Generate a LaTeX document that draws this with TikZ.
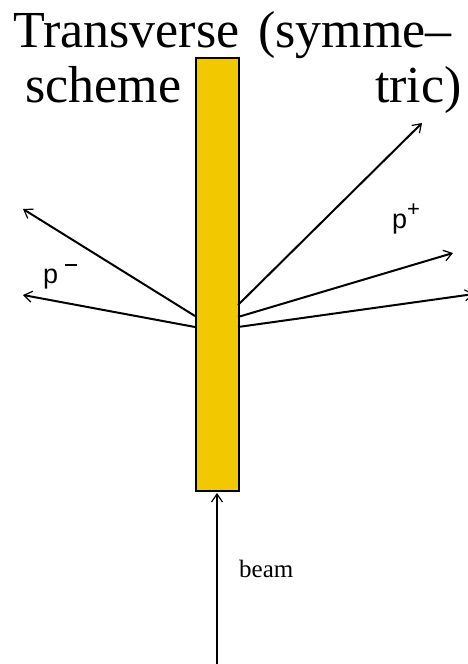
\documentclass[tikz,border=0pt]{standalone}
\usepackage{fontspec}
\setmainfont{Liberation Serif}
\newfontfamily\sansf{Liberation Sans}
\usetikzlibrary{arrows.meta}
\definecolor{gold}{RGB}{242,200,0}
\begin{document}
\begin{tikzpicture}[x=1pt,y=-1pt,
  track/.style={line width=2pt,-{Straight Barb[length=8pt,width=11pt,line width=1.2pt]}},
  title/.style={inner sep=0pt,font=\fontsize{52}{52}\selectfont},
  plabel/.style={inner sep=0pt,font=\sansf\fontsize{27}{27}\selectfont},
  blabel/.style={inner sep=0pt,font=\fontsize{25}{25}\selectfont}]
\useasboundingbox (0,0) rectangle (468,664);
\clip (0,0) rectangle (468,664);
% titles
\node[title,anchor=base west] (t1) at (13,47) {Transverse};
\node[title,anchor=base west] (t2) at (258,47) {(symme–};
\node[title,anchor=base west] (t3) at (25,102) {scheme};
\node[title,anchor=base east] (t4) at (462,102) {tric)};
% target
\node[draw,line width=2pt,fill=gold,minimum width=43pt,minimum height=433pt,inner sep=0pt,anchor=north west] (target) at (195,57) {};
% coordinates
\coordinate (l1s) at (195,316);
\coordinate (l1e) at (23,209);
\coordinate (l2s) at (195,327);
\coordinate (l2e) at (23,295);
\coordinate (r1s) at (238,305);
\coordinate (r1e) at (422,123);
\coordinate (r2s) at (238,317);
\coordinate (r2e) at (453,253);
\coordinate (r3s) at (238,327);
\coordinate (r3e) at (474,294);
\coordinate (bs) at (217,664);
\coordinate (be) at (217,493);
% tracks
\draw[track] (l1s) -- (l1e);
\draw[track] (l2s) -- (l2e);
\draw[track] (r1s) -- (r1e);
\draw[track] (r2s) -- (r2e);
\draw[track] (r3s) -- (r3e);
\draw[track] (bs) -- (be);
% labels
\node[plabel,anchor=base west] (pm) at (43,283) {p\hspace{7pt}\raisebox{17.5pt}{\rule{12pt}{1.2pt}}};
\node[plabel,anchor=base west] (pp) at (392,228) {p\raisebox{12pt}{\fontsize{22}{22}\selectfont +}};
\node[blabel,anchor=base west] (beam) at (239,577) {beam};
\end{tikzpicture}
\end{document}
